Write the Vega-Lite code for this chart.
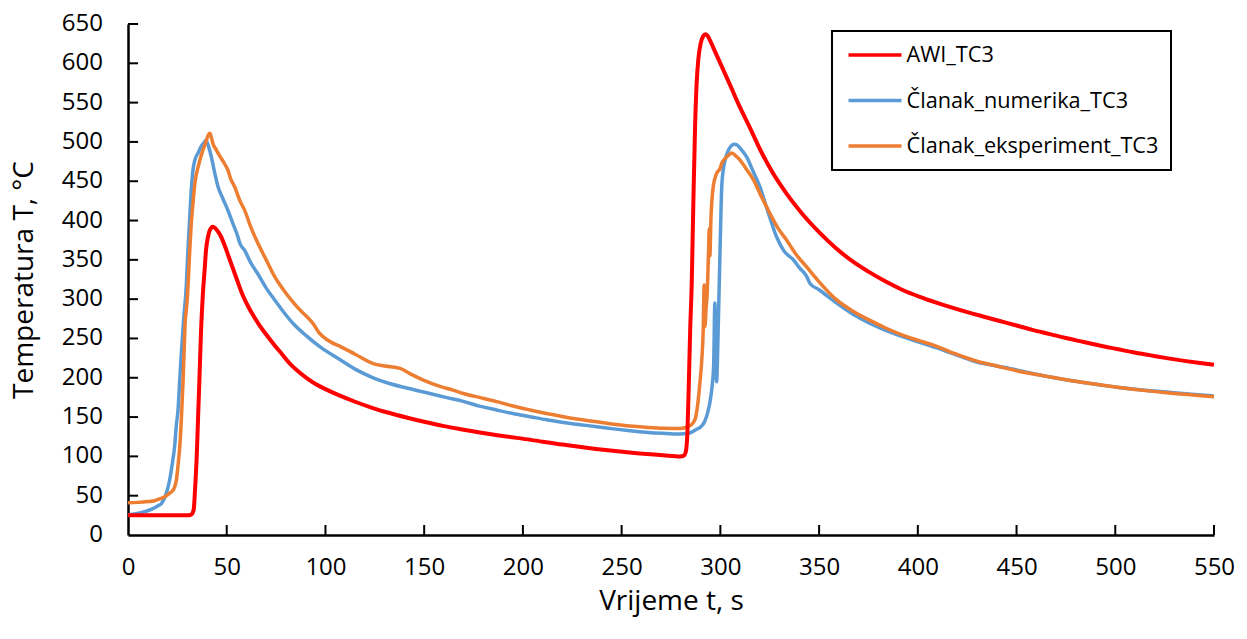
{
  "$schema": "https://vega.github.io/schema/vega-lite/v6.json",
  "autosize": "none",
  "padding": {"left": 128, "top": 24, "right": 33, "bottom": 104},
  "width": 1086,
  "height": 511,
  "background": "white",
  "config": {
    "view": {"stroke": null},
    "font": "Open Sans",
    "legend": {"strokeWidth": 2},
    "axis": {
      "grid": false,
      "domainColor": "black",
      "domainWidth": 2.5,
      "ticks": false,
      "labelFont": "Open Sans",
      "labelFontSize": 24,
      "labelColor": "black",
      "labelFlush": false,
      "labelOverlap": false,
      "titleFont": "Open Sans",
      "titleFontSize": 28,
      "titleFontWeight": "normal",
      "titleColor": "black"
    }
  },
  "datasets": {
    "awi": [
      {"t":0,"T":25},{"t":10,"T":25},{"t":20,"T":25},{"t":30,"T":25.2},{"t":31.5,"T":25.5},{"t":32.5,"T":27},{"t":33.3,"T":33},{"t":34,"T":60},{"t":34.8,"T":100},{"t":35.5,"T":150},{"t":36.2,"T":200},{"t":37,"T":260},{"t":38,"T":310},{"t":38.8,"T":337},{"t":39.5,"T":362},{"t":40.5,"T":379},{"t":41.5,"T":388},{"t":43,"T":392},{"t":45,"T":388},{"t":47,"T":380},{"t":49,"T":368},{"t":51,"T":354},{"t":53,"T":340},{"t":55,"T":326},{"t":57,"T":312},{"t":59,"T":300},{"t":61,"T":290},{"t":63,"T":281},{"t":66,"T":269},{"t":70,"T":255},{"t":74,"T":242},{"t":78,"T":230},{"t":82,"T":218},{"t":86,"T":208.5},{"t":90.5,"T":199.5},{"t":95,"T":192},{"t":100,"T":185.5},{"t":107,"T":177.5},{"t":115,"T":169.5},{"t":124,"T":161.5},{"t":132,"T":155.5},{"t":141,"T":149.5},{"t":150,"T":144},{"t":160,"T":138.5},{"t":170,"T":134},{"t":187,"T":127},{"t":204,"T":121},{"t":220,"T":115},{"t":237,"T":109.5},{"t":254,"T":105},{"t":271,"T":101.5},{"t":279.6,"T":99.8},{"t":281.5,"T":101},{"t":282.5,"T":106},{"t":283.3,"T":130},{"t":284,"T":190},{"t":284.7,"T":260},{"t":285.5,"T":320},{"t":286.3,"T":420},{"t":287.2,"T":520},{"t":288,"T":575},{"t":288.8,"T":604},{"t":290,"T":625},{"t":291.2,"T":634},{"t":292.5,"T":637},{"t":293.5,"T":635},{"t":295,"T":628},{"t":296.4,"T":620},{"t":300,"T":600},{"t":305,"T":572},{"t":309,"T":549},{"t":315,"T":518},{"t":320,"T":491},{"t":326,"T":463},{"t":333.6,"T":434},{"t":341,"T":410},{"t":350.5,"T":384},{"t":358,"T":366},{"t":367,"T":348},{"t":375,"T":335},{"t":384,"T":322},{"t":392,"T":312},{"t":401,"T":303},{"t":409,"T":296},{"t":417,"T":289.5},{"t":425,"T":283.5},{"t":433,"T":278},{"t":441,"T":272.5},{"t":450,"T":266.5},{"t":458,"T":261},{"t":467,"T":255.5},{"t":475,"T":250.5},{"t":484,"T":245.5},{"t":492,"T":241},{"t":501,"T":236.5},{"t":509,"T":232.5},{"t":518,"T":228.5},{"t":526,"T":225},{"t":535,"T":221.5},{"t":542,"T":219},{"t":550,"T":216.5}
    ],
    "num": [
      {"t":0,"T":25.4},{"t":4,"T":27},{"t":8.4,"T":29.6},{"t":12,"T":33},{"t":15,"T":37},{"t":16.9,"T":40},{"t":19,"T":50},{"t":21.1,"T":70},{"t":22.5,"T":92},{"t":23.6,"T":112},{"t":24.5,"T":140},{"t":25.3,"T":158},{"t":26.2,"T":197},{"t":27,"T":231},{"t":28.2,"T":275},{"t":29.5,"T":316},{"t":30.3,"T":360},{"t":31.2,"T":401},{"t":32,"T":437},{"t":32.9,"T":464},{"t":34,"T":478},{"t":35.5,"T":486},{"t":37,"T":494},{"t":38.8,"T":500},{"t":39.5,"T":502},{"t":40.3,"T":498},{"t":42.2,"T":481},{"t":43.8,"T":462},{"t":45.6,"T":443},{"t":48,"T":428},{"t":50.6,"T":413},{"t":53,"T":397},{"t":55.7,"T":379},{"t":56.5,"T":372},{"t":59.1,"T":362},{"t":62,"T":347},{"t":65.8,"T":332},{"t":70,"T":314},{"t":74,"T":300},{"t":78.7,"T":284},{"t":84,"T":268},{"t":90.5,"T":253},{"t":98,"T":238},{"t":107.4,"T":223},{"t":115,"T":211},{"t":124.2,"T":200},{"t":132,"T":193},{"t":141.1,"T":187},{"t":152.9,"T":180},{"t":161,"T":175},{"t":169.8,"T":170},{"t":178,"T":164},{"t":186.7,"T":159},{"t":195,"T":154.5},{"t":203.6,"T":150.5},{"t":212,"T":146.5},{"t":220.5,"T":143},{"t":229,"T":140.3},{"t":237.4,"T":137.8},{"t":246,"T":135},{"t":254.2,"T":132.7},{"t":262,"T":130.8},{"t":271.1,"T":129.3},{"t":279.6,"T":128.5},{"t":283,"T":129},{"t":286,"T":131.5},{"t":288,"T":134.5},{"t":290,"T":137.5},{"t":292,"T":144},{"t":293.5,"T":155},{"t":294.8,"T":170},{"t":295.8,"T":189},{"t":296.6,"T":215},{"t":297.2,"T":295},{"t":297.7,"T":235},{"t":298.1,"T":195},{"t":298.6,"T":230},{"t":299,"T":273},{"t":299.8,"T":358},{"t":300.7,"T":443},{"t":301.5,"T":465},{"t":302.4,"T":477},{"t":304,"T":489},{"t":305.5,"T":495},{"t":307,"T":497},{"t":308.5,"T":496},{"t":310,"T":492},{"t":313.3,"T":481},{"t":316.5,"T":463},{"t":320,"T":443},{"t":324,"T":412},{"t":328.5,"T":379},{"t":332,"T":362},{"t":337,"T":350},{"t":340,"T":340},{"t":343.7,"T":329},{"t":345.4,"T":320},{"t":350,"T":312},{"t":358.9,"T":295},{"t":367,"T":281},{"t":375.8,"T":269},{"t":384,"T":260},{"t":392.6,"T":252},{"t":401,"T":245},{"t":409.6,"T":238},{"t":416.3,"T":232},{"t":423,"T":226},{"t":429.8,"T":220},{"t":440,"T":215},{"t":450,"T":210},{"t":458,"T":205.5},{"t":467,"T":201},{"t":475,"T":197.5},{"t":483.8,"T":194},{"t":492,"T":191},{"t":500.7,"T":188},{"t":509,"T":185.8},{"t":517.6,"T":183.6},{"t":526,"T":181.8},{"t":534.5,"T":180},{"t":542,"T":178.5},{"t":549.7,"T":177}
    ],
    "eks": [
      {"t":0,"T":41},{"t":5,"T":41.5},{"t":10,"T":42.5},{"t":13.5,"T":43.6},{"t":16,"T":46},{"t":18.6,"T":48.7},{"t":21,"T":53},{"t":22.8,"T":57},{"t":24,"T":64},{"t":24.5,"T":70},{"t":25.4,"T":90},{"t":26.2,"T":112},{"t":27,"T":146},{"t":27.9,"T":197},{"t":28.5,"T":240},{"t":29,"T":273},{"t":29.5,"T":285},{"t":30,"T":300},{"t":31.2,"T":358},{"t":32,"T":395},{"t":32.9,"T":422},{"t":34,"T":450},{"t":35.5,"T":468},{"t":37,"T":482},{"t":38,"T":490},{"t":39.5,"T":500},{"t":40.5,"T":508},{"t":41.4,"T":511},{"t":42.2,"T":506},{"t":43,"T":498},{"t":44.7,"T":490},{"t":46.5,"T":482},{"t":48.5,"T":474},{"t":50.6,"T":464},{"t":52,"T":453},{"t":54,"T":443},{"t":56.7,"T":425},{"t":59.1,"T":413},{"t":62,"T":393},{"t":65.8,"T":371},{"t":70,"T":350},{"t":74,"T":330},{"t":78.7,"T":312},{"t":84,"T":295},{"t":88,"T":284},{"t":90.5,"T":278},{"t":94,"T":268},{"t":96.5,"T":258},{"t":98.9,"T":252},{"t":103,"T":245},{"t":107.4,"T":240},{"t":115,"T":230},{"t":124.2,"T":218},{"t":130,"T":215},{"t":137.8,"T":212},{"t":143,"T":205},{"t":149.6,"T":197},{"t":158,"T":189},{"t":165,"T":184},{"t":169.8,"T":180},{"t":178,"T":175},{"t":186.7,"T":169.6},{"t":195,"T":164},{"t":203.6,"T":159},{"t":212,"T":154.5},{"t":220.5,"T":150.5},{"t":229,"T":147},{"t":237.4,"T":144},{"t":246,"T":141},{"t":254.2,"T":138.6},{"t":262,"T":137},{"t":271.1,"T":135.7},{"t":279.6,"T":135.5},{"t":283.5,"T":137.5},{"t":286.3,"T":143},{"t":287.5,"T":150},{"t":288.8,"T":172},{"t":289.7,"T":195},{"t":290.6,"T":223},{"t":291.3,"T":260},{"t":291.8,"T":318},{"t":292.2,"T":265},{"t":292.8,"T":290},{"t":293.4,"T":310},{"t":294,"T":360},{"t":294.4,"T":390},{"t":294.7,"T":355},{"t":295.2,"T":400},{"t":296.4,"T":443},{"t":298.1,"T":460},{"t":299.8,"T":466},{"t":300.7,"T":473},{"t":302.5,"T":479},{"t":304.5,"T":484},{"t":305.7,"T":486},{"t":307.5,"T":483},{"t":310,"T":477},{"t":313,"T":466},{"t":316.7,"T":452},{"t":320.5,"T":432},{"t":325.1,"T":409},{"t":329,"T":391},{"t":333.6,"T":375},{"t":338,"T":358},{"t":343.7,"T":341},{"t":350,"T":322},{"t":358.9,"T":299},{"t":367,"T":285},{"t":375.8,"T":273},{"t":384,"T":263},{"t":392.6,"T":254},{"t":401,"T":247},{"t":409.6,"T":240},{"t":416.3,"T":233},{"t":423,"T":227},{"t":430,"T":221},{"t":440,"T":215},{"t":450,"T":209},{"t":458,"T":205},{"t":467,"T":201},{"t":475,"T":197.5},{"t":484,"T":194},{"t":492,"T":191},{"t":501,"T":188},{"t":509,"T":185.5},{"t":518,"T":183},{"t":526,"T":181},{"t":535,"T":179},{"t":542,"T":177.5},{"t":550,"T":176}
    ],
    "xticks": [{"t":50},{"t":100},{"t":150},{"t":200},{"t":250},{"t":300},{"t":350},{"t":400},{"t":450},{"t":500},{"t":550}],
    "yticks": [{"T":0},{"T":50},{"T":100},{"T":150},{"T":200},{"T":250},{"T":300},{"T":350},{"T":400},{"T":450},{"T":500},{"T":550},{"T":600},{"T":650}]
  },
  "layer": [
    {
      "data": {"name": "num"},
      "transform": [{"calculate": "'Članak_numerika_TC3'", "as": "serija"}],
      "mark": {"type": "line", "strokeWidth": 3.5, "interpolate": "monotone"},
      "encoding": {
        "x": {"field": "t", "type": "quantitative", "scale": {"domain": [0, 550], "nice": false}, "axis": {"values": [0,50,100,150,200,250,300,350,400,450,500,550], "title": "Vrijeme t, s", "labelPadding": 20, "titlePadding": 8, "labelOverlap": false, "labelFlush": false}},
        "y": {"field": "T", "type": "quantitative", "scale": {"domain": [0, 650], "nice": false}, "axis": {"values": [0,100,200,300,400,500,600], "title": "Temperatura T, °C", "labelPadding": 25, "titlePadding": 23, "labelOpacity": 0, "labelFlush": false}},
        "color": {"field": "serija", "type": "nominal", "scale": {"domain": ["AWI_TC3", "Članak_numerika_TC3", "Članak_eksperiment_TC3"], "range": ["#FF0000", "#5B9BD5", "#ED7D31"]},
          "legend": {"title": null, "orient": "none", "legendX": 704, "legendY": 7, "strokeColor": "black", "fillColor": "white", "padding": 12, "symbolType": "M-2,0H2", "symbolSize": 702, "symbolStrokeWidth": 3.5, "symbolOffset": 16, "clipHeight": 24, "labelFontSize": 21.7, "labelFont": "Open Sans", "labelColor": "black", "labelLimit": 400, "labelOffset": 16.5, "rowPadding": 21.5}}
      }
    },
    {
      "data": {"name": "eks"},
      "transform": [{"calculate": "'Članak_eksperiment_TC3'", "as": "serija"}],
      "mark": {"type": "line", "strokeWidth": 3.5, "interpolate": "monotone"},
      "encoding": {
        "x": {"field": "t", "type": "quantitative"},
        "y": {"field": "T", "type": "quantitative"},
        "color": {"field": "serija", "type": "nominal"}
      }
    },
    {
      "data": {"name": "awi"},
      "transform": [{"calculate": "'AWI_TC3'", "as": "serija"}],
      "mark": {"type": "line", "strokeWidth": 4, "interpolate": "monotone"},
      "encoding": {
        "x": {"field": "t", "type": "quantitative"},
        "y": {"field": "T", "type": "quantitative"},
        "color": {"field": "serija", "type": "nominal"}
      }
    },
    {
      "data": {"name": "xticks"},
      "mark": {"type": "rule", "color": "black", "strokeWidth": 2},
      "encoding": {
        "x": {"field": "t", "type": "quantitative"},
        "y": {"datum": 0},
        "y2": {"datum": 12.7}
      }
    },
    {
      "data": {"name": "yticks"},
      "transform": [{"filter": "datum.T > 0"}],
      "mark": {"type": "rule", "color": "black", "strokeWidth": 2},
      "encoding": {
        "y": {"field": "T", "type": "quantitative"},
        "x": {"datum": 0},
        "x2": {"datum": 5.1}
      }
    },
    {
      "data": {"name": "yticks"},
      "mark": {"type": "text", "align": "right", "baseline": "middle", "dx": -25, "font": "Open Sans", "fontSize": 24, "color": "black"},
      "encoding": {
        "y": {"field": "T", "type": "quantitative"},
        "x": {"datum": 0},
        "text": {"field": "T", "type": "quantitative"}
      }
    }
  ]
}
